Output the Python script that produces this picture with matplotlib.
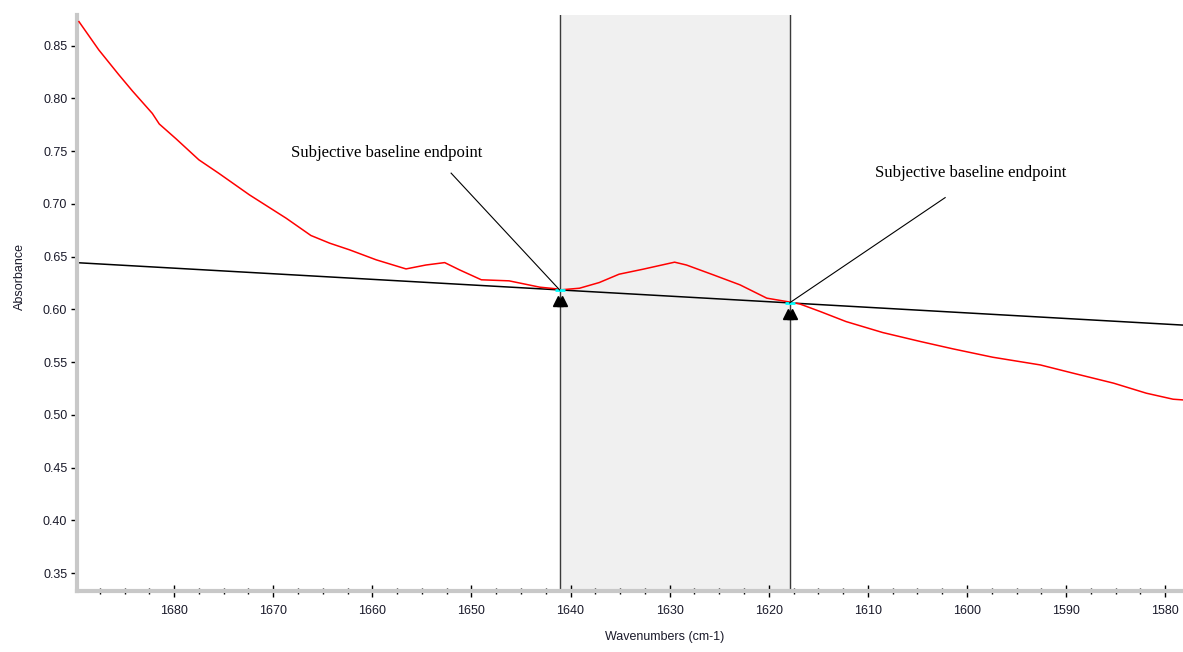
import numpy as np
import matplotlib
matplotlib.use("Agg")
import matplotlib.pyplot as plt
from matplotlib.ticker import MultipleLocator, FormatStrFormatter
from matplotlib import transforms

# spectrum (wavenumber, absorbance)
wavenumber = [1689.6, 1687.6, 1685.6, 1684.2, 1682.2, 1681.5, 1679.8, 1677.5,
              1675.5, 1672.4, 1668.7, 1666.2, 1664.3, 1662.3, 1659.6, 1656.6,
              1654.6, 1652.7, 1651.2, 1649.0, 1646.2, 1643.1, 1641.4, 1641.1,
              1639.1, 1637.1, 1635.1, 1632.7, 1629.5, 1628.3, 1625.6, 1622.9,
              1620.2, 1618.2, 1616.9, 1614.8, 1612.2, 1608.5, 1604.7, 1601.4,
              1597.4, 1592.6, 1589.3, 1585.2, 1581.9, 1579.2, 1578.0]
absorbance = [0.8727, 0.8459, 0.8226, 0.8069, 0.7857, 0.7757, 0.7616, 0.7417,
              0.729, 0.7085, 0.6864, 0.670, 0.6627, 0.6564, 0.6469, 0.6383,
              0.642, 0.6443, 0.6374, 0.628, 0.627, 0.621, 0.6194, 0.6184,
              0.620, 0.6254, 0.6333, 0.638, 0.6447, 0.642, 0.6327, 0.6232,
              0.6106, 0.6074, 0.6052, 0.5979, 0.5884, 0.578, 0.5695, 0.5625,
              0.5546, 0.5473, 0.5395, 0.530, 0.5205, 0.5148, 0.514]

# baseline endpoints picked by hand
end_x = [1641.1, 1617.9]
end_y = [0.6184, 0.6061]

label_txt = "Subjective baseline endpoint"
label_pos = [(1668.2, 0.7483), (1609.3, 0.7293)]
pointer_start = [(1652.05, 0.7291), (1602.2, 0.7059)]

xlim = (1689.8, 1578.2)
ylim = (0.333, 0.879)

fig = plt.figure(figsize=(11.83, 6.52), dpi=100)
ax = fig.add_axes([77/1183, 1-591/652, 1-77/1183, (591-15)/652])

# shaded integration region
ax.axvspan(end_x[1], end_x[0], color="#f0f0f0", zorder=0)
for xv in end_x:
    ax.axvline(xv, color="#3a3a3a", lw=1.0, zorder=1)

# baseline through the two endpoints, extended over the window
slope = (end_y[0]-end_y[1])/(end_x[0]-end_x[1])
bx = np.array(xlim)
by = end_y[0] + slope*(bx-end_x[0])
ax.plot(bx, by, color="black", lw=1.1, zorder=2)

ax.plot(wavenumber, absorbance, color="red", lw=1.1, zorder=3)

# endpoint markers
ax.plot(end_x, end_y, ls="none", marker="_", color="cyan", ms=7, mew=2, zorder=4)
for dx in (-2, 2):
    tr = transforms.offset_copy(ax.transData, fig=fig, x=dx, y=-11, units="dots")
    ax.plot(end_x, end_y, ls="none", marker="^", color="black", ms=7,
            transform=tr, zorder=5)

for (tx, ty), (sx, sy), ex, ey in zip(label_pos, pointer_start, end_x, end_y):
    ax.text(tx, ty, label_txt, family="Liberation Serif", fontsize=12,
            ha="left", va="center")
    ax.plot([sx, ex], [sy, ey], color="black", lw=0.8, zorder=4)

ax.set_xlim(*xlim)
ax.set_ylim(*ylim)
ax.xaxis.set_major_locator(MultipleLocator(10))
ax.xaxis.set_minor_locator(MultipleLocator(2.5))
ax.yaxis.set_major_locator(MultipleLocator(0.05))
ax.yaxis.set_minor_locator(MultipleLocator(0.0125))
ax.yaxis.set_major_formatter(FormatStrFormatter("%.2f"))

for s in ("top", "right"):
    ax.spines[s].set_visible(False)
for s in ("left", "bottom"):
    ax.spines[s].set_color("#c8c8c8")
    ax.spines[s].set_linewidth(3)

ax.tick_params(axis="x", which="major", direction="inout", length=8, width=1,
               labelsize=9, pad=6)
ax.tick_params(axis="x", which="minor", direction="inout", length=4, width=1)
ax.tick_params(axis="y", which="major", direction="out", length=4, width=1,
               labelsize=9, pad=3)
ax.tick_params(axis="y", which="minor", direction="inout", length=2, width=1)
for lab in ax.get_xticklabels() + ax.get_yticklabels():
    lab.set_family("Liberation Sans")
    lab.set_color("#1a1a2a")

fig.text(665/1183, 1-637/652, "Wavenumbers (cm-1)", family="Liberation Sans",
         fontsize=9, ha="center", va="center", color="#1a1a2a")
fig.text(20/1183, 1-277/652, "Absorbance", family="Liberation Sans",
         fontsize=9, ha="center", va="center", rotation=90, color="#1a1a2a")

fig.savefig("out.png", dpi=100)
